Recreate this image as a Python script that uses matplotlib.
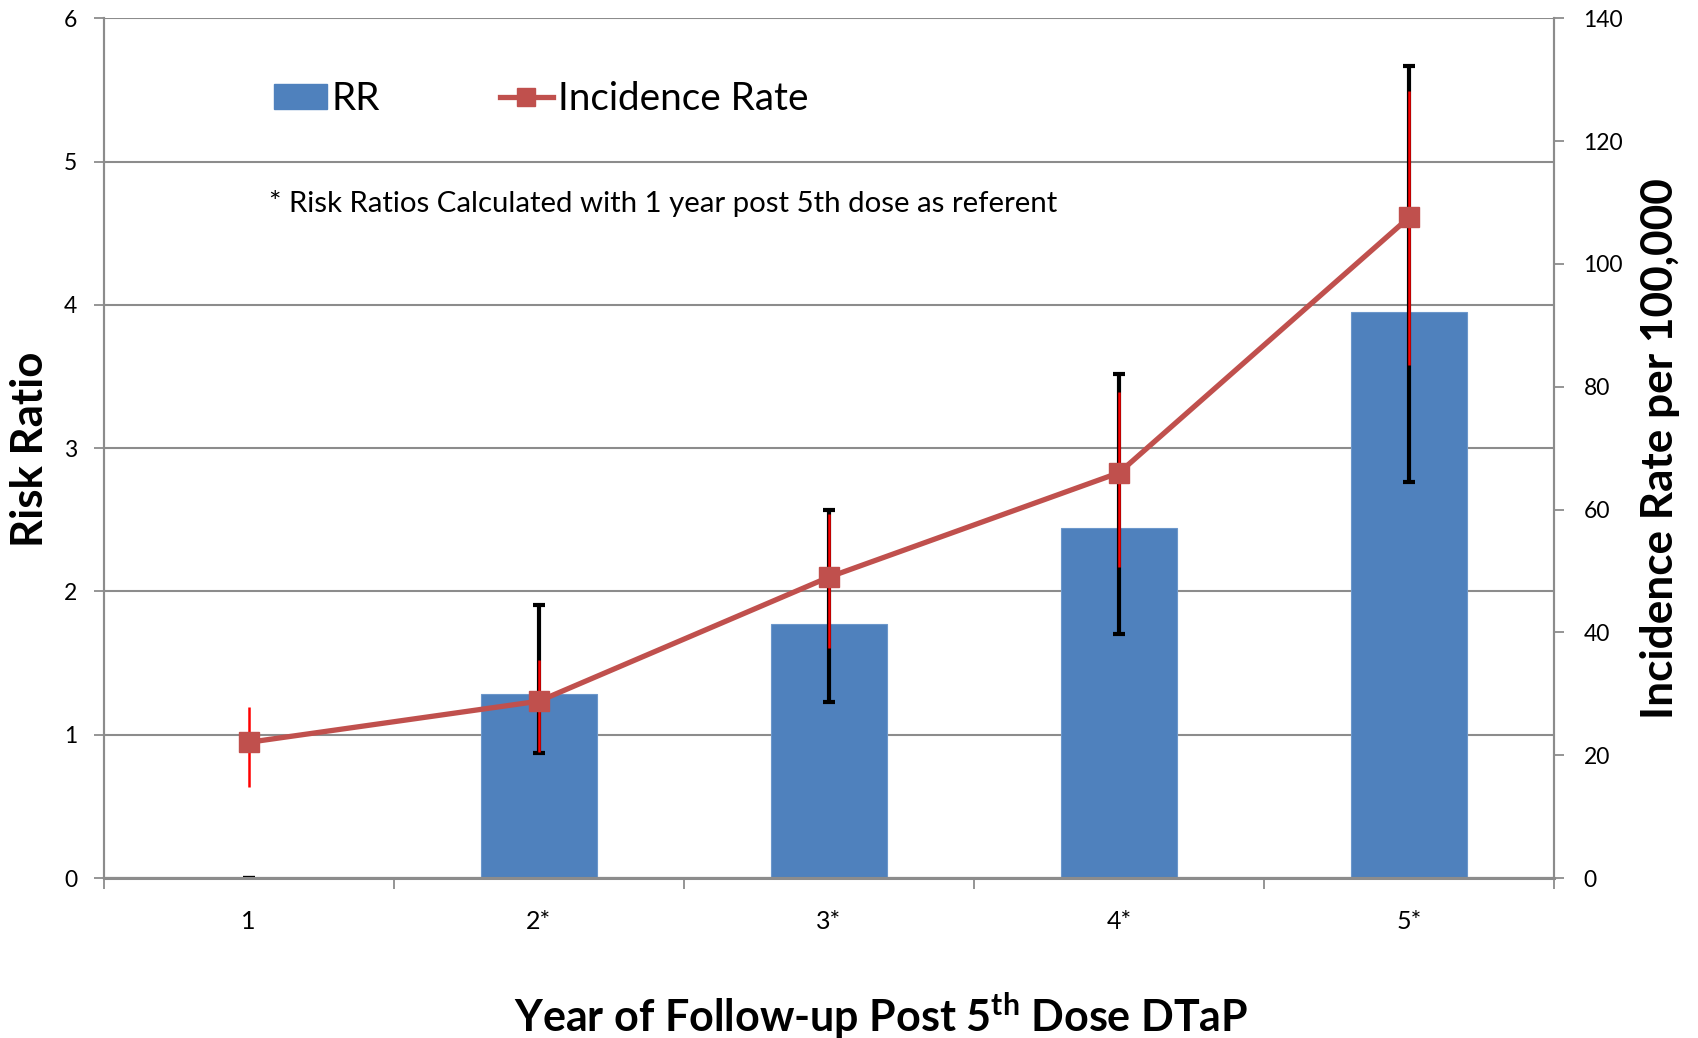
import numpy as np
import matplotlib
matplotlib.use('Agg')
import matplotlib.pyplot as plt
from matplotlib.patches import Patch
from matplotlib.lines import Line2D

plt.rcParams['font.family'] = ['Lato', 'DejaVu Sans']
plt.rcParams['mathtext.fontset'] = 'custom'
plt.rcParams['mathtext.rm'] = 'Lato'
plt.rcParams['mathtext.bf'] = 'Lato:bold'

# data
years = ['1', '2*', '3*', '4*', '5*']
rr = [0, 1.285, 1.776, 2.44, 3.953]
rr_lo = [0, 0.870, 1.232, 1.70, 2.766]
rr_hi = [0, 1.905, 2.57, 3.52, 5.664]
inc_rate = [22.1, 28.8, 49.0, 66.0, 107.6]
inc_lo = [14.8, 20.6, 37.4, 50.6, 83.6]
inc_hi = [27.8, 35.5, 59.2, 79.2, 128.1]

bar_color = '#4F81BD'
line_color = '#C0504D'
grid_color = '#8C8C8C'

x = np.arange(len(years))

fig = plt.figure(figsize=(16.98, 10.38), dpi=100)
ax = fig.add_axes([0.0610, 0.1541, 0.8544, 0.8283])
ax2 = ax.twinx()

# risk ratio bars + black CI
ax.bar(x, rr, width=0.4, color=bar_color, edgecolor='#6C97CB', linewidth=0.8, zorder=2)
rr_err = [np.array(rr) - np.array(rr_lo), np.array(rr_hi) - np.array(rr)]
ax.errorbar(x, rr, yerr=rr_err, fmt='none', ecolor='black', elinewidth=3,
            capsize=4.5, capthick=3, zorder=3)

# incidence rate line + red CI
ir_err = [np.array(inc_rate) - np.array(inc_lo), np.array(inc_hi) - np.array(inc_rate)]
ax2.errorbar(x, inc_rate, yerr=ir_err, fmt='none', ecolor='#FF0000', elinewidth=1.8,
             capsize=0, zorder=3)
ax2.plot(x, inc_rate, color=line_color, lw=3.8, marker='s', markersize=14,
         markeredgecolor=line_color, zorder=4)

ax.set_xlim(-0.5, 4.5)
ax.set_ylim(0, 6)
ax2.set_ylim(0, 140)
ax.set_yticks(range(0, 7))
ax2.set_yticks(range(0, 141, 20))

ax.set_xticks(np.arange(-0.5, 5, 1))
ax.set_xticklabels([])
ax.set_xticks(x, minor=True)
ax.set_xticklabels(years, minor=True)
ax.tick_params(axis='x', which='major', direction='out', length=8, width=1.3, color=grid_color)
ax.tick_params(axis='x', which='minor', length=0, pad=23, labelsize=18)
ax.tick_params(axis='y', direction='out', length=7, width=1.3, color=grid_color, pad=12, labelsize=16.5)
ax2.tick_params(axis='y', direction='out', length=7, width=1.3, color=grid_color, pad=14, labelsize=16.5)

ax.yaxis.grid(True, color=grid_color, lw=1.5)
ax.set_axisbelow(True)

for a in (ax, ax2):
    a.spines['top'].set_visible(False)
    for s in ('left', 'right', 'bottom'):
        a.spines[s].set_color(grid_color)
        a.spines[s].set_linewidth(1.5)
ax.spines['bottom'].set_linewidth(2.2)

fig.text(0.0177, 0.5675, 'Risk Ratio', rotation=90, ha='center', va='center',
         fontsize=31.5, fontweight='bold')
fig.text(0.9776, 0.5675, 'Incidence Rate per 100,000', rotation=90, ha='center',
         va='center', fontsize=31.8, fontweight='bold')
fig.text(0.519, 0.0212, r'Year of Follow-up Post 5$^{\mathbf{th}}$ Dose DTaP',
         ha='center', va='center', fontsize=31, fontweight='bold')

ax.text(0.1138, 0.785, '* Risk Ratios Calculated with 1 year post 5th dose as referent',
        transform=ax.transAxes, ha='left', va='center', fontsize=21.2)

handles = [Patch(facecolor=bar_color, edgecolor=bar_color),
           Line2D([0], [0], color=line_color, lw=3.8, marker='s', markersize=13)]
ax2.legend(handles, ['RR', 'Incidence Rate'], ncol=2, loc='center left',
           bbox_to_anchor=(0.1175, 0.9058), frameon=False, fontsize=27.8,
           borderpad=0, borderaxespad=0, handlelength=1.36, handleheight=0.6,
           handletextpad=0.14, columnspacing=3.1)

fig.savefig('out.png', dpi=100)
